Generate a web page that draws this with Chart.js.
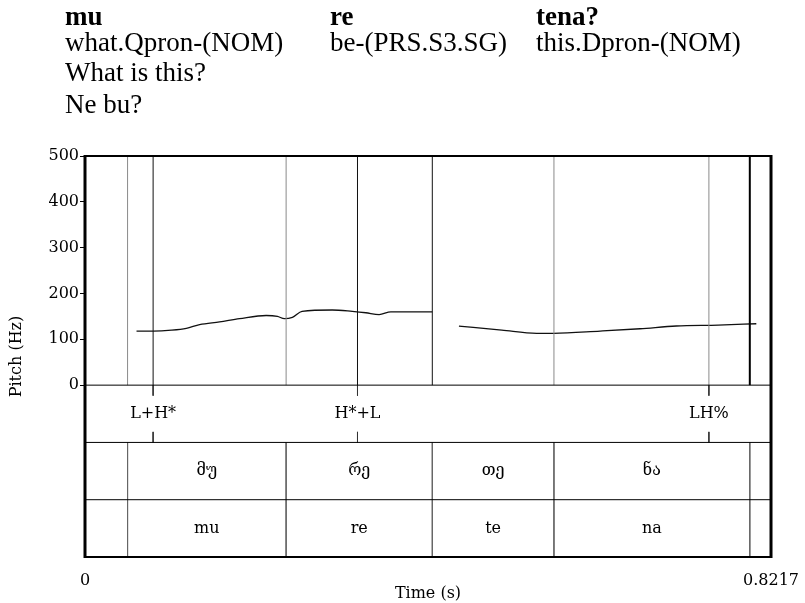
<!DOCTYPE html>
<html>
<head>
<meta charset="utf-8">
<script src="https://cdn.jsdelivr.net/npm/chart.js@4/dist/chart.umd.min.js"></script>
<style>
  html, body { margin: 0; padding: 0; background: #fff; }
  #marco { position: relative; width: 805px; height: 603px; overflow: hidden; }
  #grafico { position: absolute; left: 0; top: 0; }
  .linea {
    position: absolute;
    font-family: "Liberation Serif", "Times New Roman", serif;
    font-size: 27px;
    line-height: 25px;
    white-space: nowrap;
    color: #000;
  }
  .negrita { font-weight: bold; }
</style>
</head>
<body>
<div id="marco">
  <canvas id="grafico" width="805" height="603"></canvas>
</div>
<script>
// Glosa de la oración
const palabras = ["mu", "re", "tena?"];
const glosas = ["what.Qpron-(NOM)", "be-(PRS.S3.SG)", "this.Dpron-(NOM)"];
const traducciones = ["What is this?", "Ne bu?"];

// Ejes
const tiempoMax = 0.8217;
const ticksTiempo = [0, 0.8217];
const ticksHz = [0, 100, 200, 300, 400, 500];

// Contorno de F0: dos tramos sonoros (segundos, Hz)
const tramo1T = [0.0617, 0.0816, 0.1036, 0.1214, 0.1373, 0.1612, 0.1851, 0.2170, 0.2305, 0.2389, 0.2484, 0.2600, 0.2962, 0.3201, 0.3364, 0.3523, 0.3663, 0.4160];
const tramo1Hz = [118, 118, 120, 124, 132, 138, 145, 152, 150, 145, 148, 161, 164, 161, 158, 154, 160, 160];
const tramo2T = [0.4479, 0.4992, 0.5410, 0.5613, 0.6171, 0.6649, 0.7082, 0.7584, 0.8041];
const tramo2Hz = [129, 120, 113, 113, 118, 123, 129, 131, 134];

// Niveles de etiquetado
const limitesSilaba = [0.0510, 0.2409, 0.4160, 0.5617, 0.7963];
const silabasGeo = ["მუ", "რე", "თე", "ნა"];
const silabasLat = ["mu", "re", "te", "na"];
const tonosT = [0.0816, 0.3264, 0.7473];
const tonosEtiqueta = ["L+H*", "H*+L", "LH%"];
const franjas = [0, -125, -250, -375];

// Cabecera en HTML
const marco = document.getElementById("marco");
const agregarLinea = (texto, x, y, negrita) => {
    const div = document.createElement("div");
    div.className = negrita ? "linea negrita" : "linea";
    div.textContent = texto;
    div.style.left = x + "px";
    div.style.top = y + "px";
    marco.appendChild(div);
};
const columnas = [65, 330, 536];
palabras.forEach((p, i) => agregarLinea(p, columnas[i], 4, true));
glosas.forEach((g, i) => agregarLinea(g, columnas[i], 30, false));
traducciones.forEach((t, i) => agregarLinea(t, columnas[0], 60 + i * 32, false));

// Puntos para segmentos verticales separados por huecos
const verticales = (tiempos, y0, y1) => {
    const pts = [];
    tiempos.forEach((t) => {
        pts.push({ x: t, y: y0 }, { x: t, y: y1 }, { x: t, y: null });
    });
    return pts;
};

const contorno = [
    ...tramo1T.map((t, i) => ({ x: t, y: tramo1Hz[i] })),
    { x: (tramo1T[tramo1T.length - 1] + tramo2T[0]) / 2, y: null },
    ...tramo2T.map((t, i) => ({ x: t, y: tramo2Hz[i] })),
];

const hzTop = ticksHz[ticksHz.length - 1];
const lineasClaras = [limitesSilaba[0], limitesSilaba[1], limitesSilaba[3], tonosT[2]];
const lineasOscuras = [tonosT[0], tonosT[1], limitesSilaba[2]];
const lineaFinal = [limitesSilaba[4]];

const lineasHorizontales = [];
franjas.slice(0, 3).forEach((y) => {
    lineasHorizontales.push({ x: 0, y }, { x: tiempoMax, y }, { x: tiempoMax, y: null });
});

// marcas del nivel tonal (arriba y abajo de la etiqueta)
const marcasTono = [
    ...verticales(tonosT, franjas[0], franjas[0] - 23),
    ...verticales(tonosT, franjas[1] + 23, franjas[1]),
];

const base = { showLine: true, pointRadius: 0, spanGaps: false, tension: 0, fill: false };

const etiquetasNiveles = {
    id: "etiquetasNiveles",
    afterDatasetsDraw(chart) {
        const { ctx, chartArea, scales: { x, y } } = chart;
        ctx.save();
        ctx.fillStyle = "#000";
        ctx.textAlign = "center";
        ctx.textBaseline = "middle";
        ctx.font = '16px "DejaVu Serif", serif';
        const yTono = y.getPixelForValue((franjas[0] + franjas[1]) / 2);
        tonosT.forEach((t, i) => ctx.fillText(tonosEtiqueta[i], x.getPixelForValue(t), yTono));
        const yGeo = y.getPixelForValue((franjas[1] + franjas[2]) / 2);
        const yLat = y.getPixelForValue((franjas[2] + franjas[3]) / 2);
        for (let i = 0; i < silabasGeo.length; i++) {
            const xm = x.getPixelForValue((limitesSilaba[i] + limitesSilaba[i + 1]) / 2);
            ctx.fillText(silabasGeo[i], xm, yGeo);
            ctx.fillText(silabasLat[i], xm, yLat);
        }
        // recuadro
        ctx.strokeStyle = "#000";
        const { left, right, top, bottom } = chartArea;
        ctx.lineWidth = 2;
        ctx.beginPath();
        ctx.moveTo(left, top); ctx.lineTo(right, top);
        ctx.moveTo(left, bottom); ctx.lineTo(right, bottom);
        ctx.stroke();
        ctx.lineWidth = 3;
        ctx.beginPath();
        ctx.moveTo(left, top - 1); ctx.lineTo(left, bottom + 1);
        ctx.moveTo(right, top - 1); ctx.lineTo(right, bottom + 1);
        ctx.stroke();
        ctx.restore();
    },
};

new Chart(document.getElementById("grafico"), {
    type: "scatter",
    data: {
        datasets: [
            { ...base, data: lineasHorizontales, borderColor: "#000", borderWidth: 1 },
            { ...base, data: verticales(lineasClaras, 0, hzTop), borderColor: "#8a8a8a", borderWidth: 1 },
            { ...base, data: verticales(lineasOscuras, 0, hzTop), borderColor: "#111", borderWidth: 1 },
            { ...base, data: verticales(lineaFinal, 0, hzTop), borderColor: "#000", borderWidth: 2 },
            { ...base, data: verticales(limitesSilaba, franjas[1], franjas[3]), borderColor: "#666", borderWidth: 1 },
            { ...base, data: marcasTono, borderColor: "#333", borderWidth: 1 },
            { ...base, data: contorno, borderColor: "#111", borderWidth: 1.3, cubicInterpolationMode: "monotone" },
        ],
    },
    options: {
        responsive: false,
        animation: false,
        devicePixelRatio: 1,
        layout: { padding: { left: 0, top: 156, right: 32, bottom: 0 } },
        plugins: { legend: { display: false }, tooltip: { enabled: false } },
        scales: {
            x: {
                type: "linear",
                min: 0,
                max: tiempoMax,
                afterBuildTicks: (scale) => { scale.ticks = ticksTiempo.map((v) => ({ value: v })); },
                afterFit: (scale) => { scale.height = 46; },
                grid: { display: false },
                border: { display: false },
                ticks: {
                    color: "#000",
                    padding: 6,
                    maxRotation: 0,
                    autoSkip: false,
                    font: { family: '"DejaVu Serif", serif', size: 16 },
                    callback: (v) => String(v),
                },
                title: {
                    display: true,
                    text: "Time (s)",
                    color: "#000",
                    padding: { top: 0, bottom: 0 },
                    font: { family: '"DejaVu Serif", serif', size: 16 },
                },
            },
            y: {
                type: "linear",
                min: franjas[3],
                max: hzTop,
                afterBuildTicks: (scale) => { scale.ticks = ticksHz.map((v) => ({ value: v })); },
                afterFit: (scale) => { scale.width = 85; },
                grid: { drawOnChartArea: false, drawTicks: true, tickLength: 5, color: "#000" },
                border: { display: false },
                ticks: {
                    color: "#000",
                    padding: 1,
                    font: { family: '"DejaVu Serif", serif', size: 16 },
                },
                title: {
                    display: true,
                    text: "Pitch (Hz)",
                    color: "#000",
                    padding: { top: 7, bottom: 0 },
                    font: { family: '"DejaVu Serif", serif', size: 16 },
                },
            },
        },
    },
    plugins: [etiquetasNiveles],
});
</script>
</body>
</html>
